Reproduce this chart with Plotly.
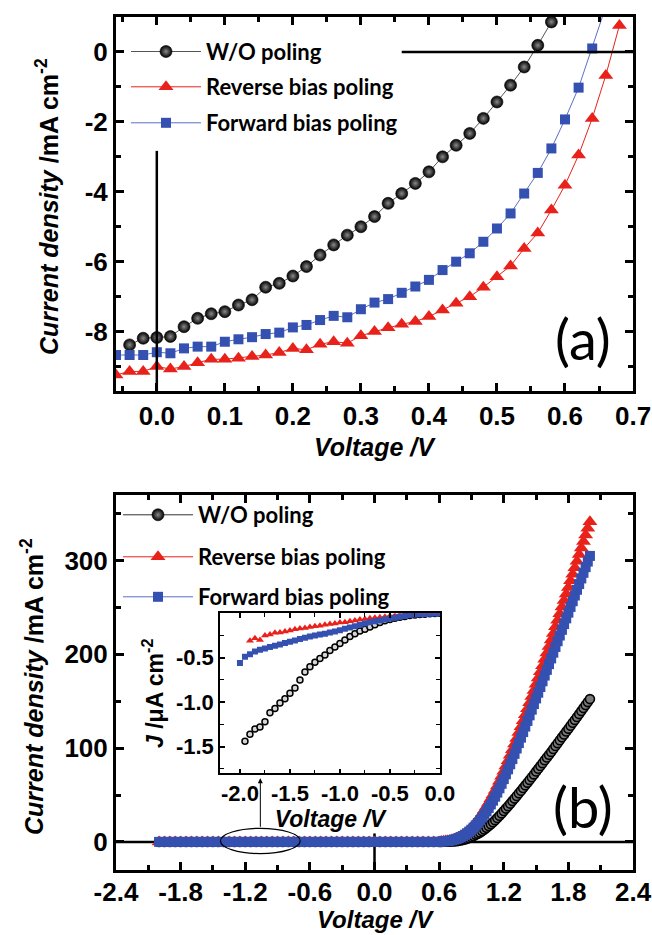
import plotly.graph_objects as go

# ---------------- Panel (a): J-V under illumination ----------------
va_black = [-0.04, -0.02, 0.00, 0.02, 0.04, 0.06, 0.08, 0.10, 0.12, 0.14, 0.16, 0.18, 0.20, 0.22,
            0.24, 0.26, 0.28, 0.30, 0.32, 0.34, 0.36, 0.38, 0.40, 0.42, 0.44, 0.46, 0.48, 0.50,
            0.52, 0.54, 0.56, 0.58, 0.60]
ja_black = [-8.38, -8.19, -8.17, -8.14, -7.86, -7.62, -7.49, -7.43, -7.24, -7.09, -6.73, -6.62, -6.41,
            -6.14, -5.81, -5.52, -5.24, -5.00, -4.71, -4.33, -4.05, -3.76, -3.43, -3.00, -2.67, -2.33,
            -1.90, -1.43, -0.95, -0.43, 0.19, 0.86, 1.60]

va_red = [-0.06, -0.04, -0.02, 0.00, 0.02, 0.04, 0.06, 0.08, 0.10, 0.12, 0.14, 0.16, 0.18, 0.20,
          0.22, 0.24, 0.26, 0.28, 0.30, 0.32, 0.34, 0.36, 0.38, 0.40, 0.42, 0.44, 0.46, 0.48,
          0.50, 0.52, 0.54, 0.56, 0.58, 0.60, 0.62, 0.64, 0.66, 0.68]
ja_red = [-9.24, -9.14, -9.14, -9.00, -9.07, -9.00, -8.89, -8.79, -8.79, -8.76, -8.71, -8.67, -8.60,
          -8.48, -8.52, -8.36, -8.29, -8.33, -8.12, -8.00, -7.89, -7.79, -7.71, -7.57, -7.38, -7.19,
          -7.00, -6.73, -6.43, -6.12, -5.62, -5.18, -4.52, -3.81, -2.95, -1.90, -0.67, 0.76]

va_blue = [-0.06, -0.04, -0.02, 0.00, 0.02, 0.04, 0.06, 0.08, 0.10, 0.12, 0.14, 0.16, 0.18, 0.20,
           0.22, 0.24, 0.26, 0.28, 0.30, 0.32, 0.34, 0.36, 0.38, 0.40, 0.42, 0.44, 0.46, 0.48,
           0.50, 0.52, 0.54, 0.56, 0.58, 0.60, 0.62, 0.64, 0.66]
ja_blue = [-8.67, -8.67, -8.67, -8.59, -8.62, -8.48, -8.43, -8.43, -8.29, -8.22, -8.16, -8.07, -8.03,
           -7.88, -7.81, -7.67, -7.55, -7.59, -7.36, -7.17, -7.07, -6.89, -6.71, -6.52, -6.24, -6.00,
           -5.76, -5.43, -5.05, -4.62, -4.05, -3.46, -2.76, -1.93, -1.02, 0.10, 1.30]

# ---------------- Panel (b): dark J-V, mA cm-2 ----------------
vb_flat = [-2.00, -1.95, -1.90, -1.85, -1.80, -1.75, -1.70, -1.65, -1.60, -1.55, -1.50, -1.45, -1.40,
           -1.35, -1.30, -1.25, -1.20, -1.15, -1.10, -1.05, -1.00, -0.95, -0.90, -0.85, -0.80, -0.75,
           -0.70, -0.65, -0.60, -0.55, -0.50, -0.45, -0.40, -0.35, -0.30, -0.25, -0.20, -0.15, -0.10,
           -0.05, 0.00, 0.05, 0.10, 0.15, 0.20, 0.25, 0.30, 0.35, 0.40, 0.45, 0.50, 0.55, 0.60]
jb_flat = [0.0, 0.0, 0.0, 0.0, 0.0, 0.0, 0.0, 0.0, 0.0, 0.0, 0.0, 0.0, 0.0, 0.0, 0.0, 0.0, 0.0, 0.0,
           0.0, 0.0, 0.0, 0.0, 0.0, 0.0, 0.0, 0.0, 0.0, 0.0, 0.0, 0.0, 0.0, 0.0, 0.0, 0.0, 0.0, 0.0,
           0.0, 0.0, 0.0, 0.0, 0.0, 0.0, 0.0, 0.0, 0.0, 0.0, 0.0, 0.0, 0.0, 0.0, 0.0, 0.0, 0.0]
vb_rise = [0.62, 0.64, 0.66, 0.68, 0.70, 0.72, 0.74, 0.76, 0.78, 0.80,
           0.82, 0.84, 0.86, 0.88, 0.90, 0.92, 0.94, 0.96, 0.98, 1.00,
           1.02, 1.04, 1.06, 1.08, 1.10, 1.12, 1.14, 1.16, 1.18, 1.20,
           1.22, 1.24, 1.26, 1.28, 1.30, 1.32, 1.34, 1.36, 1.38, 1.40,
           1.42, 1.44, 1.46, 1.48, 1.50, 1.52, 1.54, 1.56, 1.58, 1.60,
           1.62, 1.64, 1.66, 1.68, 1.70, 1.72, 1.74, 1.76, 1.78, 1.80,
           1.82, 1.84, 1.86, 1.88, 1.90, 1.92, 1.94, 1.96, 1.98, 2.00]
jb_black = [0.0, 0.1, 0.1, 0.2, 0.3, 0.4, 0.6, 0.8, 1.1, 1.5,
            2.0, 2.6, 3.3, 4.1, 5.2, 6.3, 7.5, 8.8, 10.1, 11.5,
            13.2, 15.0, 16.9, 18.9, 21.0, 23.2, 25.5, 27.9, 30.4, 32.9,
            35.5, 38.1, 40.8, 43.5, 46.2, 49.0, 51.8, 54.6, 57.4, 60.3,
            63.2, 66.1, 69.0, 72.0, 75.0, 78.0, 81.0, 84.0, 87.0, 90.0,
            93.0, 96.0, 99.1, 102.2, 105.3, 108.4, 111.5, 114.6, 117.7, 120.8,
            123.9, 127.0, 130.1, 133.2, 136.3, 139.5, 142.7, 145.9, 149.1, 152.3]
jb_red = [0.4, 0.6, 0.9, 1.2, 1.6, 2.2, 2.9, 3.8, 4.8, 6.0,
          7.4, 9.0, 10.9, 13.0, 15.3, 17.9, 20.7, 23.7, 26.9, 30.3,
          33.9, 37.7, 41.7, 45.9, 50.3, 54.9, 59.7, 64.7, 69.9, 75.3,
          80.9, 86.6, 92.4, 98.3, 104.3, 110.4, 116.6, 122.8, 129.1, 135.5,
          142.0, 148.5, 155.0, 161.6, 168.2, 174.8, 181.4, 188.0, 194.7, 201.4,
          208.4, 215.4, 222.4, 229.4, 236.4, 243.4, 250.4, 257.4, 264.4, 271.4,
          278.4, 285.4, 292.4, 299.4, 306.4, 313.4, 320.4, 327.4, 334.4, 341.4]
jb_blue = [0.3, 0.5, 0.7, 1.0, 1.3, 1.8, 2.4, 3.1, 4.0, 5.0,
           6.2, 7.6, 9.2, 11.0, 13.0, 15.2, 17.6, 20.2, 23.0, 26.0,
           29.2, 32.6, 36.2, 40.0, 44.0, 48.2, 52.6, 57.2, 62.0, 67.0,
           72.1, 77.4, 82.8, 88.3, 93.9, 99.6, 105.4, 111.2, 117.1, 123.0,
           129.0, 135.0, 141.0, 147.0, 153.0, 159.1, 165.2, 171.3, 177.4, 183.5,
           189.6, 195.7, 201.8, 207.9, 214.0, 220.1, 226.2, 232.3, 238.4, 244.5,
           250.6, 256.7, 262.8, 268.9, 275.0, 281.0, 287.0, 293.0, 299.0, 305.0]

# ---------------- Inset: reverse-bias region, uA cm-2 ----------------
vi_black = [-1.95, -1.90, -1.85, -1.80, -1.75, -1.70, -1.65, -1.60, -1.55, -1.50, -1.45, -1.40, -1.35,
            -1.30, -1.25, -1.20, -1.15, -1.10, -1.05, -1.00, -0.95, -0.90, -0.85, -0.80, -0.75, -0.70,
            -0.65, -0.60, -0.55, -0.50, -0.45, -0.40, -0.35, -0.30, -0.25, -0.20, -0.15, -0.10, -0.05, 0.00]
ji_black = [-1.44, -1.36, -1.30, -1.28, -1.22, -1.12, -1.07, -1.01, -0.96, -0.90, -0.84, -0.75, -0.66,
            -0.60, -0.55, -0.51, -0.47, -0.42, -0.38, -0.34, -0.30, -0.26, -0.23, -0.20, -0.18, -0.155,
            -0.13, -0.105, -0.085, -0.07, -0.055, -0.045, -0.035, -0.025, -0.02, -0.015, -0.01, -0.005,
            -0.003, 0.0]
vi_red = [-1.90, -1.85, -1.80, -1.75, -1.70, -1.65, -1.60, -1.55, -1.50, -1.45, -1.40, -1.35, -1.30,
          -1.25, -1.20, -1.15, -1.10, -1.05, -1.00, -0.95, -0.90, -0.85, -0.80, -0.75, -0.70, -0.65,
          -0.60, -0.55, -0.50, -0.45, -0.40, -0.35, -0.30, -0.25, -0.20, -0.15, -0.10, -0.05, 0.00]
ji_red = [-0.31, -0.28, -0.30, -0.25, -0.24, -0.22, -0.215, -0.205, -0.195, -0.18, -0.17, -0.165, -0.155,
          -0.145, -0.14, -0.13, -0.12, -0.115, -0.105, -0.10, -0.09, -0.08, -0.07, -0.065, -0.055, -0.05,
          -0.045, -0.04, -0.03, -0.025, -0.02, -0.015, -0.01, -0.008, -0.005, -0.003, -0.002, -0.001, 0.0]
vi_blue = [-2.00, -1.95, -1.90, -1.85, -1.80, -1.75, -1.70, -1.65, -1.60, -1.55, -1.50, -1.45, -1.40,
           -1.35, -1.30, -1.25, -1.20, -1.15, -1.10, -1.05, -1.00, -0.95, -0.90, -0.85, -0.80, -0.75,
           -0.70, -0.65, -0.60, -0.55, -0.50, -0.45, -0.40, -0.35, -0.30, -0.25, -0.20, -0.15, -0.10,
           -0.05, 0.00]
ji_blue = [-0.56, -0.49, -0.46, -0.43, -0.41, -0.395, -0.38, -0.365, -0.35, -0.335, -0.32, -0.305, -0.29,
           -0.275, -0.26, -0.25, -0.24, -0.23, -0.215, -0.205, -0.19, -0.175, -0.16, -0.145, -0.13, -0.115,
           -0.10, -0.09, -0.08, -0.07, -0.06, -0.05, -0.04, -0.03, -0.02, -0.015, -0.01, -0.007, -0.004,
           -0.002, 0.0]

series_names = ["W/O poling", "Reverse bias poling", "Forward bias poling"]
x_title = "<i>Voltage /V</i>"
y_title = "<i>Current density</i> /mA cm<sup>-2</sup>"

# tick labels
a_xticks = [0.0, 0.1, 0.2, 0.3, 0.4, 0.5, 0.6, 0.7]
a_xlabels = ["0.0", "0.1", "0.2", "0.3", "0.4", "0.5", "0.6", "0.7"]
a_yticks = [0, -2, -4, -6, -8]
a_ylabels = ["0", "-2", "-4", "-6", "-8"]
b_xticks = [-2.4, -1.8, -1.2, -0.6, 0.0, 0.6, 1.2, 1.8, 2.4]
b_xlabels = ["-2.4", "-1.8", "-1.2", "-0.6", "0.0", "0.6", "1.2", "1.8", "2.4"]
b_yticks = [0, 100, 200, 300]
b_ylabels = ["0", "100", "200", "300"]
i_xticks = [-2.0, -1.5, -1.0, -0.5, 0.0]
i_xlabels = ["-2.0", "-1.5", "-1.0", "-0.5", "0.0"]
i_yticks = [-1.5, -1.0, -0.5]
i_ylabels = ["-1.5", "-1.0", "-0.5"]

W, H = 652, 935
RED = "#e8221b"
BLUE = "#3450b0"
BLUE_LINE = "#5b6fc2"
TICKF = dict(family="Liberation Sans, Arial", size=26, color="black", weight="bold")
TITLEF = dict(family="Liberation Sans, Arial", size=25, color="black", weight="bold")
TITLEF_B = dict(family="Liberation Sans, Arial", size=24, color="black", weight="bold")
LEGF = dict(family="Lato, Noto Sans", size=22, color="black", weight="bold")
INSF = dict(family="Liberation Sans, Arial", size=22, color="black", weight="bold")
INSTF = dict(family="Liberation Sans, Arial", size=23, color="black", weight="bold")

ball = dict(symbol="circle", size=12, color="#000000",
            gradient=dict(type="radial", color="#8a8a8a"),
            line=dict(color="black", width=0.6))
tri = dict(symbol="triangle-up", size=13, color=RED)
sq = dict(symbol="square", size=10, color=BLUE)

fig = go.Figure()

# panel (a)
fig.add_trace(go.Scatter(x=va_black, y=ja_black, mode="lines+markers", name=series_names[0],
                         line=dict(color="#555555", width=1), marker=ball,
                         xaxis="x", yaxis="y", legend="legend"))
fig.add_trace(go.Scatter(x=va_red, y=ja_red, mode="lines+markers", name=series_names[1],
                         line=dict(color=RED, width=1), marker=tri,
                         xaxis="x", yaxis="y", legend="legend2"))
fig.add_trace(go.Scatter(x=va_blue, y=ja_blue, mode="lines+markers", name=series_names[2],
                         line=dict(color=BLUE_LINE, width=1), marker=sq,
                         xaxis="x", yaxis="y", legend="legend3"))

# panel (b)
vb = vb_flat + vb_rise
fig.add_trace(go.Scatter(x=vb, y=jb_flat + jb_black, mode="markers", showlegend=False,
                         marker=dict(symbol="circle", size=9, color="#7a7a7a", line=dict(color="black", width=1.6)),
                         xaxis="x2", yaxis="y2"))
fig.add_trace(go.Scatter(x=vb, y=jb_flat + jb_red, mode="markers", showlegend=False,
                         marker=tri, xaxis="x2", yaxis="y2"))
fig.add_trace(go.Scatter(x=vb, y=jb_flat + jb_blue, mode="markers", showlegend=False,
                         marker=sq, xaxis="x2", yaxis="y2"))
# legend entries for panel (b)
fig.add_trace(go.Scatter(x=[None], y=[None], mode="lines+markers", name=series_names[0],
                         line=dict(color="#333333", width=1), marker=ball,
                         xaxis="x2", yaxis="y2", legend="legend4"))
fig.add_trace(go.Scatter(x=[None], y=[None], mode="lines+markers", name=series_names[1],
                         line=dict(color=RED, width=1), marker=tri,
                         xaxis="x2", yaxis="y2", legend="legend5"))
fig.add_trace(go.Scatter(x=[None], y=[None], mode="lines+markers", name=series_names[2],
                         line=dict(color=BLUE_LINE, width=1), marker=sq,
                         xaxis="x2", yaxis="y2", legend="legend6"))

# inset
fig.add_trace(go.Scatter(x=vi_black, y=ji_black, mode="markers", showlegend=False,
                         marker=dict(symbol="circle", size=6, color="#d5d5d5", line=dict(color="black", width=1.5)),
                         xaxis="x3", yaxis="y3"))
fig.add_trace(go.Scatter(x=vi_red, y=ji_red, mode="markers", showlegend=False,
                         marker=dict(symbol="triangle-up", size=7, color=RED),
                         xaxis="x3", yaxis="y3"))
fig.add_trace(go.Scatter(x=vi_blue, y=ji_blue, mode="markers", showlegend=False,
                         marker=dict(symbol="square", size=6, color=BLUE),
                         xaxis="x3", yaxis="y3"))


def main_axis(**kw):
    d = dict(showline=True, linecolor="black", linewidth=3, mirror="ticks",
             ticks="inside", ticklen=8, tickwidth=3, tickcolor="black",
             showgrid=False, zeroline=False, tickfont=TICKF, automargin=False,
             ticklabeloverflow="allow")
    d.update(kw)
    return d


def inset_axis(**kw):
    d = dict(showline=True, linecolor="black", linewidth=1.5, mirror="ticks",
             ticks="inside", ticklen=5, tickwidth=1.5, tickcolor="black",
             showgrid=False, zeroline=False, automargin=False, tickfont=INSF,
             ticklabeloverflow="allow")
    d.update(kw)
    return d


def minor(dt, ln=5, wd=2.5):
    return dict(ticks="inside", ticklen=ln, tickwidth=wd, tickcolor="black", dtick=dt, tick0=0)


def leg(xpx, ypx):
    return dict(x=xpx / W, y=1 - ypx / H, xanchor="left", yanchor="middle",
                bgcolor="rgba(0,0,0,0)", font=LEGF, itemwidth=70, borderwidth=0)


fig.update_layout(
    width=W, height=H, margin=dict(l=0, r=0, t=0, b=0),
    paper_bgcolor="white", plot_bgcolor="white",
    xaxis=main_axis(domain=[0.1779, 0.9709], range=[-0.06, 0.7], anchor="y",
                    tickvals=a_xticks, ticktext=a_xlabels, minor=minor(0.05)),
    yaxis=main_axis(domain=[0.5818, 0.9818], range=[-9.7, 1.0], anchor="x",
                    tickvals=a_yticks, ticktext=a_ylabels, minor=minor(1)),
    xaxis2=main_axis(domain=[0.1779, 0.9709], range=[-2.4, 2.4], anchor="y2",
                     tickvals=b_xticks, ticktext=b_xlabels, minor=minor(0.3),
                     ticklabelstandoff=-3),
    yaxis2=main_axis(domain=[0.0695, 0.4706], range=[-30, 370], anchor="x2",
                     tickvals=b_yticks, ticktext=b_ylabels, minor=minor(50)),
    xaxis3=inset_axis(domain=[0.3374, 0.6748], range=[-2.2, 0.001], anchor="y3",
                      tickvals=i_xticks, ticktext=i_xlabels, minor=minor(0.25, 4, 1.2),
                      title=dict(text=x_title, font=INSTF, standoff=2)),
    yaxis3=inset_axis(domain=[0.1729, 0.3441], range=[-1.8, 0.0], anchor="x3",
                      tickvals=i_yticks, ticktext=i_ylabels, minor=minor(0.25, 4, 1.2),
                      title=dict(text="<i>J</i> /\u03bcA cm<sup>-2</sup>", font=INSTF, standoff=6)),
    legend=leg(126, 51.7),
    legend2=leg(126, 87),
    legend3=leg(126, 123),
    legend4=leg(118, 515),
    legend5=leg(118, 557),
    legend6=leg(118, 597),
    showlegend=True,
)

# main axis titles, placed in the paper frame
for txt, xp, yp, ang, f in [(x_title, 375, 447, 0, TITLEF), (x_title, 375, 919, 0, TITLEF_B),
                            (y_title, 47, 207, -90, TITLEF), (y_title, 32, 687, -90, TITLEF)]:
    fig.add_annotation(x=xp / W, y=1 - yp / H, xref="paper", yref="paper", text=txt,
                       showarrow=False, textangle=ang, xanchor="center", yanchor="middle",
                       font=f)

# partial zero lines
fig.add_shape(type="line", xref="x", yref="y", x0=0, x1=0, y0=-2.83, y1=-9.7,
              line=dict(color="black", width=2.5))
fig.add_shape(type="line", xref="x", yref="y", x0=0.36, x1=0.7, y0=0, y1=0,
              line=dict(color="black", width=2.5))
fig.add_shape(type="line", xref="x2", yref="y2", x0=-2.4, x1=2.4, y0=0, y1=0,
              line=dict(color="black", width=2.5), layer="below")
fig.add_shape(type="line", xref="x2", yref="y2", x0=0, x1=0, y0=9, y1=-30,
              line=dict(color="black", width=2.5), layer="below")
# ellipse marking the inset region
fig.add_shape(type="circle", xref="x2", yref="y2", x0=-1.43, x1=-0.69, y0=-12.5, y1=14.5,
              line=dict(color="black", width=1.2))

fig.add_annotation(x=-1.06, y=68, ax=-1.06, ay=14.5, xref="x2", yref="y2", axref="x2", ayref="y2",
                   showarrow=True, arrowhead=2, arrowsize=1, arrowwidth=1, arrowcolor="black", text="")
fig.add_annotation(x=583 / W, y=1 - 338 / H, xref="paper", yref="paper", text="(a)", showarrow=False,
                   xanchor="center", yanchor="middle",
                   font=dict(family="Lato, Noto Sans", size=56, color="black"))
fig.add_annotation(x=583 / W, y=1 - 806 / H, xref="paper", yref="paper", text="(b)", showarrow=False,
                   xanchor="center", yanchor="middle",
                   font=dict(family="Lato, Noto Sans", size=56, color="black"))

fig.write_html("out.html")
